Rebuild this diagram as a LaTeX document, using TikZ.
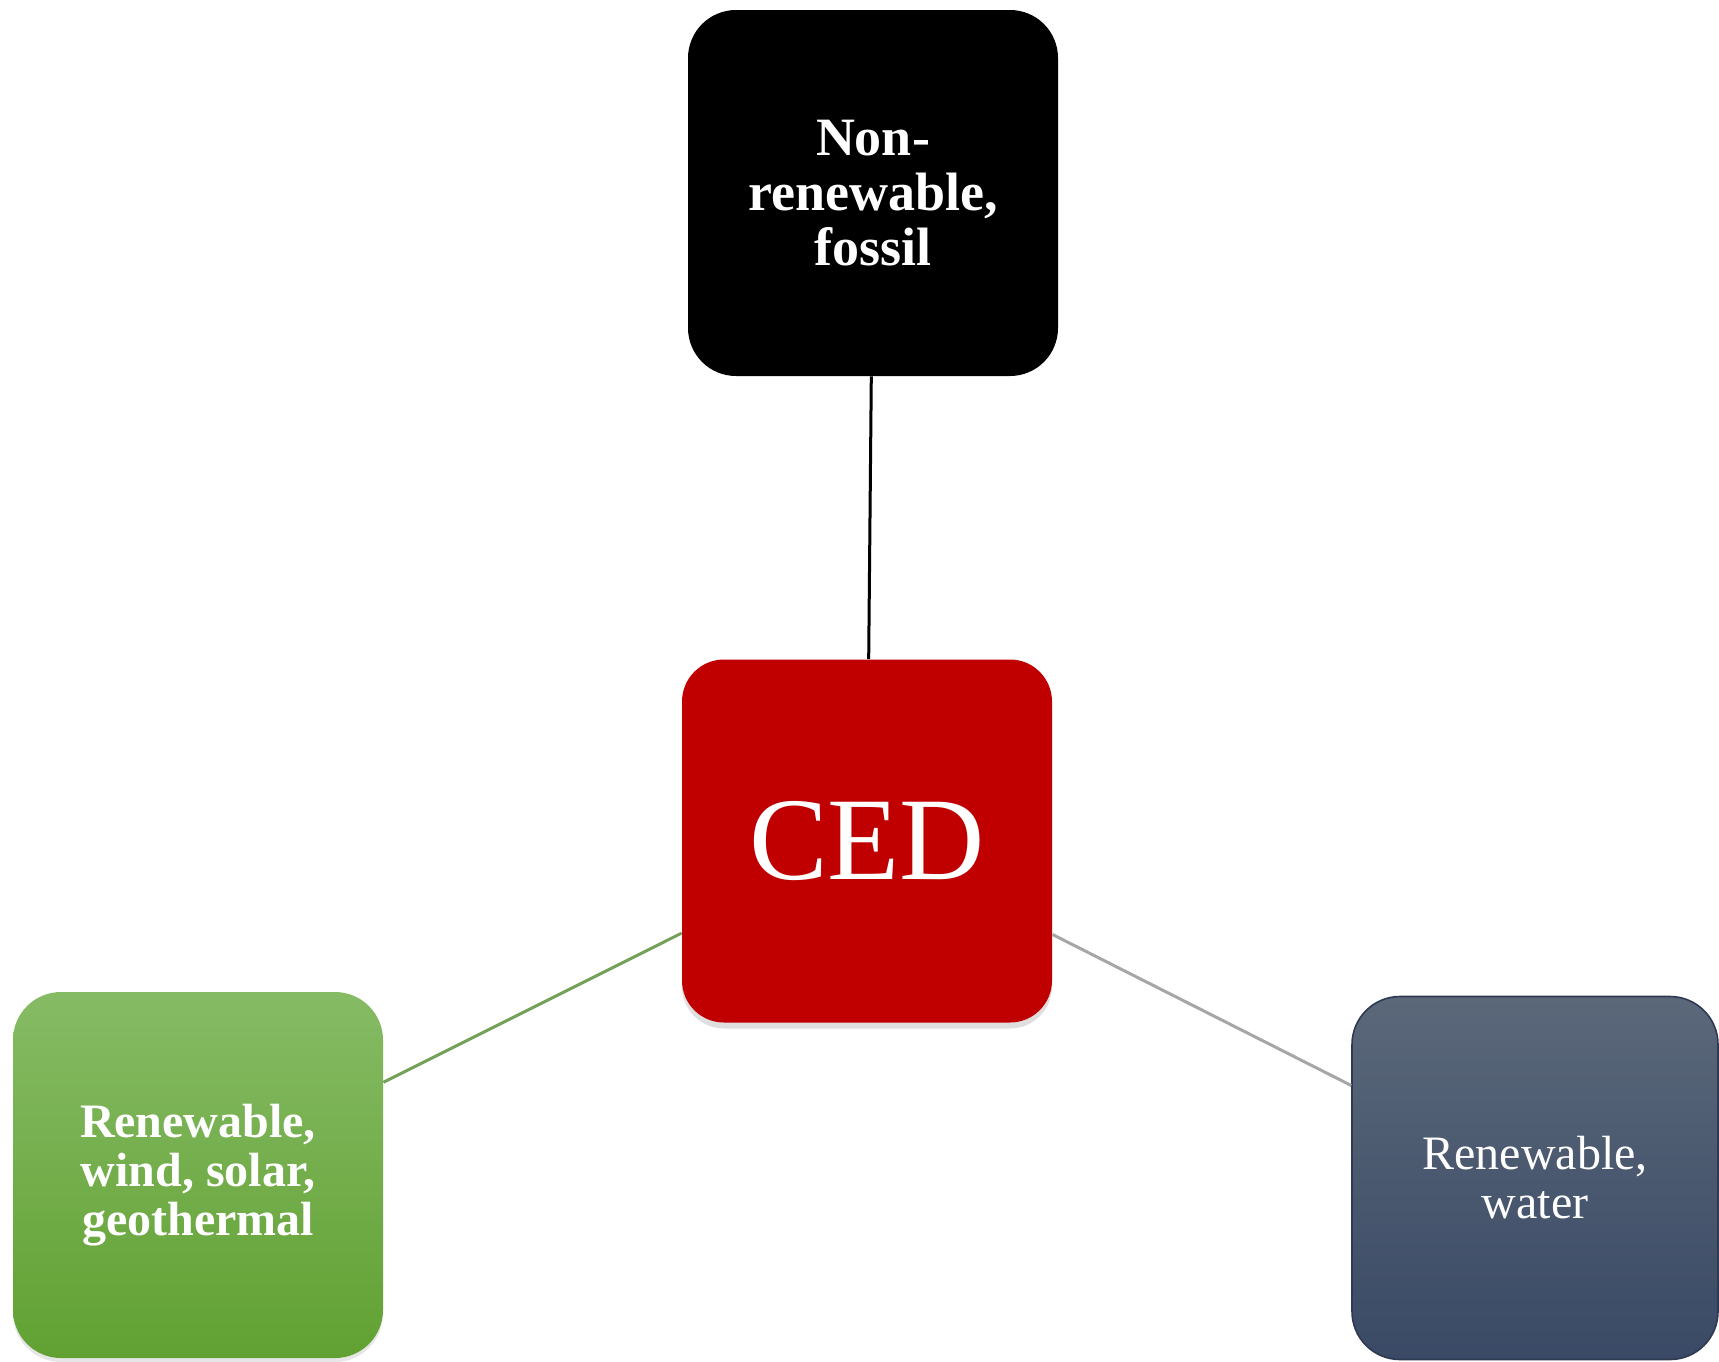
\documentclass[tikz,border=0pt]{standalone}
\usepackage{fontspec}
\setmainfont{Liberation Serif}
\usepackage{tikz}
\usetikzlibrary{shadows}
\definecolor{cedred}{HTML}{C00000}
\definecolor{greentop}{HTML}{86BB65}
\definecolor{greenbot}{HTML}{61A132}
\definecolor{bluetop}{HTML}{5B687A}
\definecolor{bluebot}{HTML}{3A4965}
\definecolor{greenline}{HTML}{76A05A}
\definecolor{grayline}{HTML}{A6A6A6}
\tikzset{box/.style={rounded corners=24pt, minimum width=185pt, minimum height=183pt, inner sep=0pt, align=center, text=white}}
\tikzset{fossilbox/.style={box, fill=black, font=\bfseries\fontsize{27}{27.5}\selectfont}}
\tikzset{cedbox/.style={box, fill=cedred, rounded corners=21pt, minimum height=181.5pt, font=\fontsize{59}{59}\selectfont, drop shadow={shadow xshift=0pt, shadow yshift=-3pt, opacity=0.25}}}
\tikzset{windbox/.style={box, top color=greentop, bottom color=greenbot, font=\bfseries\fontsize{24}{24.5}\selectfont, drop shadow={shadow xshift=0pt, shadow yshift=-2pt, opacity=0.2}}}
\tikzset{waterbox/.style={box, minimum width=183pt, minimum height=181.5pt, top color=bluetop, bottom color=bluebot, draw=bluebot!80!black, line width=0.8pt, font=\fontsize{24}{24.5}\selectfont}}
\tikzset{edge/.style={line width=1.5pt}}

\begin{document}
\begin{tikzpicture}[x=0.5pt, y=-0.5pt]
\useasboundingbox (0,0) rectangle (1719,1361);
%boxes
\node (fossil) at (873,193)[fossilbox]{Non-\\renewable,\\fossil};
\node (ced) at (867,841)[cedbox]{CED};
\node (wind) at (198,1175)[windbox]{Renewable,\\wind, solar,\\geothermal};
\node (water) at (1535,1178)[waterbox]{Renewable,\\water};
%connectors
\draw[edge, black] (fossil)--(ced);
\draw[edge, greenline] (wind)--(ced);
\draw[edge, grayline] (water)--(ced);
\end{tikzpicture}
\end{document}
